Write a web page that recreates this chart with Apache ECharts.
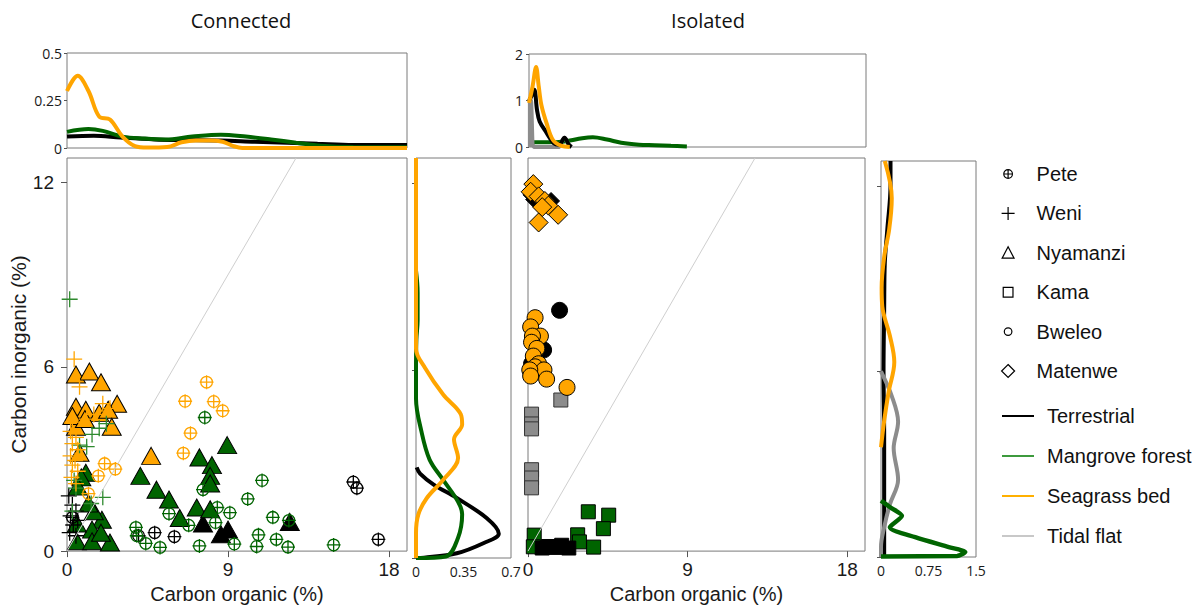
<!DOCTYPE html>
<html>
<head>
<meta charset="utf-8">
<script src="https://cdn.jsdelivr.net/npm/echarts@6/dist/echarts.min.js"></script>
<style>
  html, body { margin: 0; padding: 0; background: #ffffff; }
  #chart { width: 1204px; height: 609px; }
</style>
</head>
<body>
<div id="chart"></div>
<script>
// ---- Sample values: [organic C %, inorganic C %] ----
// Connected sites
const peteTerrestrial = [[16.0,2.25],[16.2,2.05],[17.4,0.38],[4.9,0.6],[6.0,0.47],[4.0,0.5],[0.3,1.1]];
const peteMangrove = [[7.7,4.35],[10.9,2.3],[10.1,1.7],[7.6,2.0],[5.7,1.22],[6.8,0.84],[8.4,1.42],[9.1,1.25],[8.3,0.93],[11.5,1.1],[12.4,1.0],[10.7,0.53],[11.7,0.38],[12.35,0.13],[7.4,0.17],[9.35,0.23],[10.6,0.15],[14.9,0.2],[5.2,0.12],[3.85,0.77],[4.4,0.25],[3.9,0.5]];
const peteSeagrass = [[7.8,5.5],[6.6,4.88],[8.2,4.87],[8.7,4.57],[6.9,3.84],[6.5,3.19],[2.1,2.85],[2.7,2.67],[1.75,2.45],[1.2,1.87]];
const weniTerrestrial = [[0.1,1.8],[0.3,1.5],[0.5,1.3],[0.2,1.15],[0.6,1.0],[0.35,0.85],[0.15,0.6],[0.5,0.5]];
const weniMangrove = [[0.15,8.2],[2.2,4.15],[1.4,3.8],[0.7,3.45],[1.1,3.4],[1.8,4.0],[0.5,2.05],[2.0,1.75],[1.35,1.55],[0.4,2.3],[0.3,1.3]];
const weniSeagrass = [[0.4,6.25],[0.7,5.35],[2.0,4.8],[2.4,4.65],[0.3,4.2],[0.2,3.9],[0.5,3.7],[0.3,3.5],[0.6,3.3],[0.2,3.1],[0.45,2.95],[0.3,2.8],[0.6,2.6],[0.25,2.4],[0.5,2.2],[1.1,4.3],[1.5,4.45]];
const nyamanziTerrestrial = [[7.6,0.9],[9.0,0.7],[8.6,0.55],[12.45,0.95]];
const nyamanziMangrove = [[8.95,3.45],[7.4,3.05],[8.1,2.8],[8.0,2.45],[8.0,2.2],[5.0,2.0],[5.7,1.68],[6.3,1.08],[7.25,1.42],[8.0,1.36],[4.1,2.45],[1.05,2.55],[0.8,2.4],[0.6,2.1],[1.95,1.02],[1.5,1.3],[1.2,1.55],[1.4,0.7],[0.55,0.9],[0.55,0.32],[1.4,0.32],[2.4,0.28],[1.9,0.6]];
const nyamanziSeagrass = [[0.5,5.75],[1.25,5.85],[1.9,5.5],[0.5,4.7],[1.05,4.6],[1.8,4.5],[2.8,4.8],[2.3,4.6],[2.5,4.05],[0.5,4.05],[0.7,3.2],[4.7,3.1],[0.3,4.4],[1.0,4.3]];

// Isolated sites
const kamaTerrestrial = [[1.15,0.15],[1.9,0.19],[2.3,0.1],[1.5,0.12],[0.8,0.1]];
const kamaMangrove = [[3.4,1.28],[4.55,1.17],[4.25,0.73],[2.8,0.53],[2.9,0.3],[3.7,0.13],[0.35,0.52],[0.3,0.14]];
const kamaTidal = [[1.85,4.92],[0.2,4.46],[0.2,4.14],[0.2,3.98],[0.2,2.65],[0.2,2.38],[0.2,2.06]];
const bweleoTerrestrial = [[1.78,7.84],[0.88,6.55],[0.2,6.1]];
const bweleoSeagrass = [[0.4,7.6],[0.15,7.3],[0.7,7.0],[0.25,7.0],[0.2,6.8],[0.5,6.6],[0.3,6.35],[0.6,6.1],[0.4,6.0],[0.9,5.9],[0.1,5.9],[0.15,5.7],[1.05,5.6],[2.2,5.33]];
const matenweTerrestrial = [[0.2,11.6],[0.35,11.45],[1.3,11.4]];
const matenweSeagrass = [[0.3,11.95],[0.15,11.7],[0.6,11.55],[0.95,11.4],[1.15,11.25],[0.8,11.2],[1.7,10.95],[0.6,10.7]];

// ---- Density curves ----
// top margins: [organic C %, density]
const connTopTerrestrial = [[0,0.06],[1.5,0.065],[3.0,0.055],[4.9,0.045],[6.5,0.042],[8.6,0.04],[10.5,0.033],[12.3,0.028],[14,0.022],[16,0.016],[19,0.016]];
const connTopMangrove = [[0,0.085],[1.2,0.1],[2.0,0.09],[3.1,0.06],[4.3,0.05],[5.5,0.045],[7.0,0.06],[8.6,0.07],[10,0.06],[11.4,0.045],[12.8,0.028],[14.2,0.012],[16,0.005],[19,0.004]];
const connTopSeagrass = [[0,0.3],[0.6,0.38],[1.2,0.3],[1.8,0.165],[2.4,0.15],[3.1,0.06],[3.8,0.01],[4.5,0.002],[5.6,0.005],[6.4,0.03],[7.2,0.04],[8.0,0.04],[8.7,0.033],[9.3,0.01],[9.8,0],[19,0]];
const isoTopTerrestrial = [[0,1.0],[0.15,1.1],[0.3,1.23],[0.45,0.8],[0.6,0.55],[1.0,0.3],[1.4,0.08],[1.7,0.05],[2.0,0.2],[2.25,0.05],[2.4,0]];
const isoTopMangrove = [[0.1,0.1],[1.0,0.1],[2.0,0.12],[3.0,0.19],[3.6,0.21],[4.4,0.16],[5.2,0.09],[6.2,0.05],[7.1,0.04],[8.0,0.025],[8.9,0.01]];
const isoTopSeagrass = [[0,0.95],[0.2,1.3],[0.4,1.72],[0.55,1.3],[0.7,0.9],[1.0,0.5],[1.35,0.15],[1.8,0.03],[2.3,0]];
const isoTopTidal = [[0.05,0],[0.05,1.0],[0.12,1.0],[0.2,0.05],[0.3,0],[1.7,0],[1.85,0.12],[2.0,0.2],[2.15,0.12],[2.3,0]];
// side margins: [density, inorganic C %]
const connSideTerrestrial = [[0.005,2.9],[0.03,2.7],[0.13,2.35],[0.3,1.92],[0.52,1.28],[0.61,0.78],[0.5,0.48],[0.3,0.15],[0.06,0.01],[0,0]];
const connSideMangrove = [[0,9.2],[0.012,8.5],[0.012,7.6],[0.003,7.0],[0,6],[0,5.1],[0.04,4.05],[0.1,3.15],[0.2,2.5],[0.31,1.8],[0.34,1.4],[0.31,0.65],[0.22,0.05],[0,0]];
const connSideSeagrass = [[0,12.8],[0,6.7],[0.067,6.08],[0.2,5.23],[0.33,4.6],[0.34,4.27],[0.28,3.8],[0.31,3.2],[0.2,2.5],[0.08,1.92],[0.017,1.39],[0,0.8],[0,0]];
const isoSideTerrestrial = [[0.15,12.8],[0.15,12.0],[0.1,10.6],[0.06,9.5],[0.05,8],[0.04,6],[0.05,4],[0.05,2],[0.05,0.3],[0.05,0]];
const isoSideMangrove = [[0,1.82],[0.15,1.6],[0.33,1.33],[0.14,0.96],[0.54,0.64],[1.07,0.32],[1.33,0.16],[1.2,0.03],[0,0.02]];
const isoSideSeagrass = [[0.06,12.8],[0.17,11.6],[0.13,10.6],[0.05,9.7],[0.01,8.7],[0.02,8.1],[0.14,7.15],[0.21,6.3],[0.12,5.33],[0.05,4.4],[0,3.55]];
const isoSideTidal = [[0,6.0],[0.17,5.2],[0.27,4.37],[0.2,3.52],[0.27,2.5],[0.14,1.7],[0.05,0.96],[0,0.33],[0,0]];

// 1:1 reference line
const oneToOne = [[0,0],[12.8,12.8]];

// ---- Tick values ----
const organicTicks = [0, 9, 18];
const inorganicTicks = [0, 6, 12];
const connTopTicks = [0, 0.25, 0.5];
const isoTopTicks = [0, 1, 2];
const connSideTicks = [0, 0.35, 0.7];
const isoSideTicks = [0, 0.75, 1.5];

const COL = { terrestrial: '#000000', mangrove: '#006400', seagrass: '#ffa500', tidal: '#8c8c8c', diag: '#cfcfcf' };
const SYM = {
  pete: 'path://M2,12A10,10 0 1,1 22,12A10,10 0 1,1 2,12Z M0,12L24,12 M12,0L12,24',
  weni: 'path://M0,12L24,12 M12,0L12,24'
};
const LEG_ICON = {
  pete: 'path://M0,0M24,24M4,12A8,8 0 1,1 20,12A8,8 0 1,1 4,12Z M3,12L21,12 M12,3L12,21',
  weni: 'path://M0,12L24,12 M12,0L12,24',
  nyamanzi: 'path://M0,0M24,24M12,1L23,22L1,22Z',
  kama: 'path://M0,0M24,24M3,3L21,3L21,21L3,21Z',
  bweleo: 'path://M0,0M24,24M5,12A7,7 0 1,1 19,12A7,7 0 1,1 5,12Z',
  matenwe: 'path://M12,0L24,12L12,24L0,12Z'
};

const baseFont = "'Liberation Sans', Arial, sans-serif";
const softFont = "'Open Sans', 'Noto Sans', sans-serif";

function pts(name, gi, data, symbol, size, fill, stroke, bw) {
  return {
    type: 'scatter', name, xAxisIndex: gi, yAxisIndex: gi, data, symbol, symbolSize: size,
    itemStyle: { color: fill, borderColor: stroke, borderWidth: bw, opacity: 1 },
    emphasis: { disabled: true }, silent: true
  };
}
function curve(name, gi, data, color, width, smooth) {
  return {
    type: 'line', name, xAxisIndex: gi, yAxisIndex: gi, data, showSymbol: false, symbol: 'none',
    smooth: smooth === undefined ? 0.35 : smooth, clip: false,
    lineStyle: { color, width: width || 4 }, itemStyle: { color },
    emphasis: { disabled: true }, silent: true
  };
}
const NOFILL = 'rgba(0,0,0,0)';

const grids = [
  { left: 67, top: 53, width: 340, height: 95 },    // top margin, connected
  { left: 67, top: 158, width: 340, height: 400 },  // connected
  { left: 416, top: 158, width: 95, height: 400 },  // side margin, connected
  { left: 529, top: 54, width: 337, height: 93 },   // top margin, isolated
  { left: 528, top: 158, width: 337, height: 400 }, // isolated
  { left: 881, top: 161, width: 95, height: 396 }   // side margin, isolated
].map(g => Object.assign({ show: true, borderColor: '#7a7a7a', borderWidth: 1, backgroundColor: '#fff', containLabel: false }, g));

function axis(gi, min, max, opts) {
  const o = opts || {};
  return {
    type: 'value', gridIndex: gi, min, max, splitLine: { show: false },
    axisLine: { show: false },
    axisTick: o.ticks ? { show: true, inside: false, length: o.tickLen || 5, customValues: o.ticks, lineStyle: { color: '#555' } } : { show: false },
    axisLabel: o.labels ? { show: true, customValues: o.labels, fontSize: o.fontSize || 19, fontFamily: o.font || baseFont, color: '#1a1a1a', margin: o.margin || 8 } : { show: false },
    name: o.name || '', nameLocation: 'middle', nameGap: o.nameGap || 30,
    nameTextStyle: { fontSize: o.nameSize || 20, fontFamily: baseFont, color: '#1a1a1a' }
  };
}

const xAxes = [
  axis(0, 0, 19),
  axis(1, 0, 19, { ticks: organicTicks, labels: organicTicks, tickLen: 6, margin: 9, name: 'Carbon organic (%)', nameGap: 28 }),
  axis(2, 0, 0.7, { labels: connSideTicks, fontSize: 14, font: softFont, margin: 6 }),
  axis(3, 0, 19),
  axis(4, 0, 19, { ticks: organicTicks, labels: organicTicks, tickLen: 6, margin: 9, name: 'Carbon organic (%)', nameGap: 28 }),
  axis(5, 0, 1.5, { labels: isoSideTicks, fontSize: 14, font: softFont, margin: 6 })
];
const yAxes = [
  axis(0, 0, 0.5, { ticks: connTopTicks, labels: connTopTicks, tickLen: 3, fontSize: 14, font: softFont, margin: 5 }),
  axis(1, 0, 12.8, { ticks: inorganicTicks, labels: inorganicTicks, tickLen: 6, margin: 13, name: 'Carbon inorganic (%)', nameGap: 30, nameSize: 21 }),
  axis(2, 0, 12.8, { ticks: inorganicTicks, tickLen: 4 }),
  axis(3, 0, 2, { ticks: isoTopTicks, labels: isoTopTicks, tickLen: 3, fontSize: 14, font: softFont, margin: 6 }),
  axis(4, 0, 12.8),
  axis(5, 0, 12.8, { ticks: inorganicTicks, tickLen: 4 })
];

const series = [
  // reference diagonals
  curve('Tidal flat', 1, oneToOne, COL.diag, 1, false),
  curve('Tidal flat', 4, oneToOne, COL.diag, 1, false),

  // connected points
  pts('Nyamanzi', 1, nyamanziTerrestrial, 'triangle', [19, 17], COL.terrestrial, '#000', 1),
  pts('Nyamanzi', 1, nyamanziMangrove, 'triangle', [19, 17], COL.mangrove, '#000', 1),
  pts('Nyamanzi', 1, nyamanziSeagrass, 'triangle', [19, 17], COL.seagrass, '#000', 1),
  pts('Pete', 1, peteTerrestrial, SYM.pete, 14, NOFILL, COL.terrestrial, 1.3),
  pts('Pete', 1, peteMangrove, SYM.pete, 14, NOFILL, COL.mangrove, 1.3),
  pts('Pete', 1, peteSeagrass, SYM.pete, 14, NOFILL, COL.seagrass, 1.3),
  pts('Weni', 1, weniTerrestrial, SYM.weni, 16, NOFILL, COL.terrestrial, 1.3),
  pts('Weni', 1, weniMangrove, SYM.weni, 16, NOFILL, '#2f8a2f', 1.3),
  pts('Weni', 1, weniSeagrass, SYM.weni, 16, NOFILL, COL.seagrass, 1.3),

  // isolated points
  pts('Kama', 4, kamaTidal, 'rect', 14, COL.tidal, '#333', 1),
  pts('Kama', 4, kamaMangrove, 'rect', 14, COL.mangrove, '#000', 1),
  pts('Kama', 4, kamaTerrestrial, 'rect', 14, COL.terrestrial, '#000', 1),
  pts('Bweleo', 4, bweleoTerrestrial, 'circle', 16, COL.terrestrial, '#000', 1),
  pts('Bweleo', 4, bweleoSeagrass, 'circle', 16, COL.seagrass, '#000', 1),
  pts('Matenwe', 4, matenweTerrestrial, 'diamond', 17, COL.terrestrial, '#000', 1),
  pts('Matenwe', 4, matenweSeagrass, 'diamond', 19, COL.seagrass, '#000', 1),

  // density curves, connected
  curve('Terrestrial', 0, connTopTerrestrial, COL.terrestrial),
  curve('Mangrove forest', 0, connTopMangrove, COL.mangrove),
  curve('Seagrass bed', 0, connTopSeagrass, COL.seagrass),
  curve('Terrestrial', 2, connSideTerrestrial, COL.terrestrial),
  curve('Mangrove forest', 2, connSideMangrove, COL.mangrove),
  curve('Seagrass bed', 2, connSideSeagrass, COL.seagrass),

  // density curves, isolated
  curve('Mangrove forest', 3, isoTopMangrove, COL.mangrove),
  curve('Tidal flat', 3, isoTopTidal, COL.tidal, 4, 0.1),
  curve('Terrestrial', 3, isoTopTerrestrial, COL.terrestrial),
  curve('Seagrass bed', 3, isoTopSeagrass, COL.seagrass),
  curve('Terrestrial', 5, isoSideTerrestrial, COL.terrestrial),
  curve('Tidal flat', 5, isoSideTidal, COL.tidal),
  curve('Seagrass bed', 5, isoSideSeagrass, COL.seagrass),
  curve('Mangrove forest', 5, isoSideMangrove, COL.mangrove, 4.5, 0.25)
];

const legendText = { fontSize: 20, fontFamily: baseFont, color: '#111', lineHeight: 20 };
const siteItem = (name, icon) => ({ name, icon, itemStyle: { color: NOFILL, borderColor: '#000', borderWidth: 1.2 } });
const habitatItem = (name, color) => ({ name, icon: 'rect', itemStyle: { color, borderWidth: 0 } });

const option = {
  animation: false,
  backgroundColor: '#ffffff',
  title: [
    { text: 'Connected', left: 236, top: 5, textAlign: 'center', textStyle: { fontSize: 20, fontWeight: 'normal', fontFamily: softFont, color: '#111' } },
    { text: 'Isolated', left: 703, top: 5, textAlign: 'center', textStyle: { fontSize: 20, fontWeight: 'normal', fontFamily: softFont, color: '#111' } }
  ],
  legend: [
    {
      orient: 'vertical', left: 996, top: 159, itemWidth: 13, itemHeight: 13, itemGap: 19.4,
      selectedMode: false, textStyle: Object.assign({ padding: [0, 0, 0, 17] }, legendText),
      data: [
        siteItem('Pete', LEG_ICON.pete), siteItem('Weni', LEG_ICON.weni), siteItem('Nyamanzi', LEG_ICON.nyamanzi),
        siteItem('Kama', LEG_ICON.kama), siteItem('Bweleo', LEG_ICON.bweleo), siteItem('Matenwe', LEG_ICON.matenwe)
      ]
    },
    {
      orient: 'vertical', left: 997, top: 401, itemWidth: 32, itemHeight: 2, itemGap: 20,
      selectedMode: false, textStyle: Object.assign({ padding: [0, 0, 0, 8] }, legendText),
      data: [
        habitatItem('Terrestrial', '#000000'), habitatItem('Mangrove forest', '#3d9a3d'),
        habitatItem('Seagrass bed', '#ffb000'), habitatItem('Tidal flat', '#c8c8c8')
      ]
    }
  ],
  grid: grids,
  xAxis: xAxes,
  yAxis: yAxes,
  series
};

const chart = echarts.init(document.getElementById('chart'), null, { renderer: 'svg' });
chart.setOption(option);
</script>
</body>
</html>
